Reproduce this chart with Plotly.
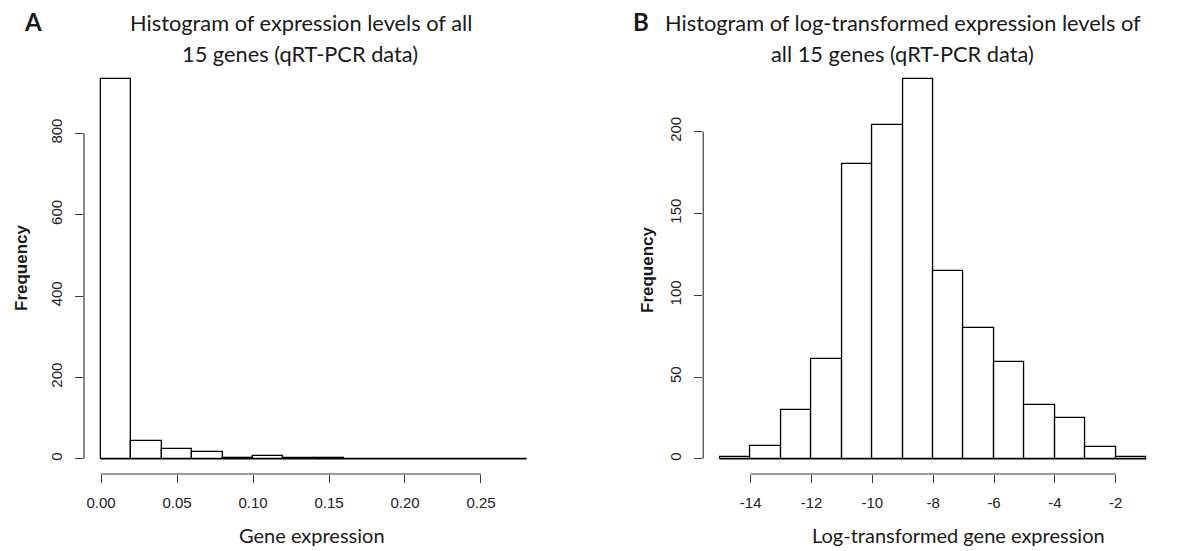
import plotly.graph_objects as go

# Panel A: raw expression values, bins of width 0.02 from 0 to 0.28
expr_edges = [0.00, 0.02, 0.04, 0.06, 0.08, 0.10, 0.12, 0.14, 0.16, 0.18, 0.20, 0.22, 0.24, 0.26, 0.28]
expr_counts = [933, 45, 24, 16, 2, 6, 2, 2, 0, 0, 0, 0, 0, 0]
expr_xticks = [0.00, 0.05, 0.10, 0.15, 0.20, 0.25]
expr_xlabels = ["0.00", "0.05", "0.10", "0.15", "0.20", "0.25"]
expr_yticks = [0, 200, 400, 600, 800]

# Panel B: log-transformed values, bins of width 1 from -15 to -1
log_edges = [-15, -14, -13, -12, -11, -10, -9, -8, -7, -6, -5, -4, -3, -2, -1]
log_counts = [1, 8, 30, 61, 180, 204, 232, 115, 80, 59, 33, 25, 7, 1]
log_xticks = [-14, -12, -10, -8, -6, -4, -2]
log_xlabels = ["-14", "-12", "-10", "-8", "-6", "-4", "-2"]
log_yticks = [0, 50, 100, 150, 200]

W, H = 1196, 551
AXIS_COL = "#3a3a3a"
TICK_FONT = dict(family="Liberation Sans, Arial, sans-serif", size=15, color="#222")
TEXT_FONT = "Lato, Calibri, sans-serif"


def px(x):
    return x / W


def py(y):
    return 1 - y / H


def padded(lo, hi, frac=0.04):
    d = (hi - lo) * frac
    return [lo - d, hi + d]


fig = go.Figure()

panels = [
    dict(edges=expr_edges, counts=expr_counts, xa="x", ya="y",
         dom=[px(84), px(543.6)]),
    dict(edges=log_edges, counts=log_counts, xa="x2", ya="y2",
         dom=[px(703.2), px(1163.2)]),
]

for p in panels:
    e, c = p["edges"], p["counts"]
    centers = [(a + b) / 2 for a, b in zip(e[:-1], e[1:])]
    widths = [b - a for a, b in zip(e[:-1], e[1:])]
    # empty bins still show as a flat outline along zero
    fig.add_trace(go.Scatter(
        x=[e[0], e[-1]], y=[0, 0], mode="lines",
        line=dict(color="black", width=1.2),
        xaxis=p["xa"], yaxis=p["ya"], showlegend=False, hoverinfo="skip"))
    fig.add_trace(go.Bar(
        x=centers, y=c, width=widths,
        marker=dict(color="white", line=dict(color="black", width=1.3)),
        xaxis=p["xa"], yaxis=p["ya"], showlegend=False))

ydom = [py(474), py(64)]

common_x = dict(showgrid=False, zeroline=False, showline=False, ticks="outside",
                ticklen=8, tickwidth=1, tickcolor=AXIS_COL, tickfont=TICK_FONT,
                ticklabelstandoff=7)
common_y = dict(showgrid=False, zeroline=False, showline=False, ticks="outside",
                ticklen=8, tickwidth=1, tickcolor=AXIS_COL, tickfont=TICK_FONT,
                tickangle=-90, ticklabelstandoff=7)

fig.update_layout(
    width=W, height=H,
    margin=dict(l=0, r=0, t=0, b=0),
    paper_bgcolor="white", plot_bgcolor="white",
    bargap=0,
    xaxis=dict(common_x, domain=panels[0]["dom"], anchor="y",
               range=padded(expr_edges[0], expr_edges[-1]),
               tickmode="array", tickvals=expr_xticks, ticktext=expr_xlabels),
    yaxis=dict(common_y, domain=ydom, anchor="x",
               range=padded(0, max(expr_counts)),
               tickmode="array", tickvals=expr_yticks),
    xaxis2=dict(common_x, domain=panels[1]["dom"], anchor="y2",
                range=padded(log_edges[0], log_edges[-1]),
                tickmode="array", tickvals=log_xticks, ticktext=log_xlabels),
    yaxis2=dict(common_y, domain=ydom, anchor="x2",
                range=padded(0, max(log_counts)),
                tickmode="array", tickvals=log_yticks),
)

# axis lines spanning only the tick range
for xa, ya, xt, yt in [("x", "y", expr_xticks, expr_yticks),
                       ("x2", "y2", log_xticks, log_yticks)]:
    fig.add_shape(type="line", xref=f"{xa} domain", yref=ya,
                  x0=0, x1=0, y0=yt[0], y1=yt[-1],
                  line=dict(color=AXIS_COL, width=1.2))
    fig.add_shape(type="line", xref=xa, yref=f"{ya} domain",
                  x0=xt[0], x1=xt[-1], y0=0, y1=0,
                  line=dict(color=AXIS_COL, width=1.2))

texts = [
    # panel letters
    dict(text="<b>A</b>", x=32.5, y=22, size=24),
    dict(text="<b>B</b>", x=641.5, y=22, size=24),
    # titles
    dict(text="Histogram of expression levels of all", x=301, y=22.5, size=21.8),
    dict(text="15 genes (qRT-PCR data)", x=300, y=54, size=21.8),
    dict(text="Histogram of log-transformed expression levels of", x=903, y=22.5, size=21.8),
    dict(text="all 15 genes (qRT-PCR data)", x=902, y=54, size=21.8),
    # x axis titles
    dict(text="Gene expression", x=311.7, y=535, size=20),
    dict(text="Log-transformed gene expression", x=958.3, y=535, size=20),
]
for t in texts:
    fig.add_annotation(text=t["text"], x=px(t["x"]), y=py(t["y"]),
                       xref="paper", yref="paper", showarrow=False,
                       xanchor="center", yanchor="middle",
                       font=dict(family=TEXT_FONT, size=t["size"], color="#1a1a1a"))

for x, y in [(21, 268), (647, 270)]:
    fig.add_annotation(text="<b>Frequency</b>", x=px(x), y=py(y),
                       xref="paper", yref="paper", showarrow=False,
                       textangle=-90, xanchor="center", yanchor="middle",
                       font=dict(family="Liberation Sans, Arial, sans-serif",
                                 size=17, color="#1a1a1a"))

fig.write_html("out.html")
